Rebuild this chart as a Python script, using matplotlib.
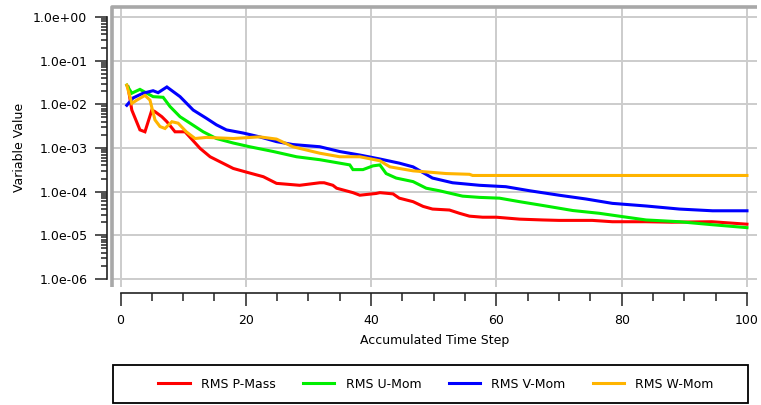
import numpy as np
import matplotlib
matplotlib.use('Agg')
import matplotlib.pyplot as plt
import matplotlib.ticker as mticker
from matplotlib.patches import Rectangle

# values (time step, residual)
p_mass_t = [1.2, 1.8, 3.1, 3.9, 5.0, 5.5, 6.6, 7.4, 8.7, 10.3, 12.7, 14.3, 18.0, 20.1, 22.8, 24.9,
            28.6, 31.8, 32.5, 33.9, 34.5, 37.1, 38.2, 40.8, 41.4, 43.5, 44.5, 46.7, 48.3, 49.8,
            52.5, 54.1, 55.7, 57.8, 60.0, 63.7, 67.4, 70.0, 75.3, 78.5, 83.8, 88.0, 94.4, 100.0]
p_mass = [2.5e-2, 7.4e-3, 2.6e-3, 2.35e-3, 7.4e-3, 6.8e-3, 5.2e-3, 4.0e-3, 2.35e-3, 2.35e-3,
          9.8e-4, 6.3e-4, 3.4e-4, 2.8e-4, 2.2e-4, 1.55e-4, 1.4e-4, 1.6e-4, 1.6e-4, 1.4e-4,
          1.2e-4, 9.5e-5, 8.3e-5, 9.1e-5, 9.5e-5, 8.9e-5, 7.1e-5, 5.9e-5, 4.6e-5, 4.0e-5,
          3.8e-5, 3.2e-5, 2.75e-5, 2.6e-5, 2.6e-5, 2.35e-5, 2.25e-5, 2.2e-5, 2.2e-5, 2.05e-5,
          2.05e-5, 2.0e-5, 2.05e-5, 1.8e-5]

u_mom_t = [1.0, 1.8, 3.1, 4.2, 5.2, 6.8, 7.9, 9.5, 11.1, 13.2, 15.3, 18.0, 20.6, 24.4, 28.1,
           31.8, 36.6, 37.1, 38.7, 40.3, 41.4, 42.4, 44.0, 46.7, 48.8, 50.9, 54.6, 57.3, 60.5,
           63.7, 67.9, 72.2, 76.4, 79.6, 83.9, 89.2, 94.5, 100.0]
u_mom = [2.75e-2, 1.8e-2, 2.2e-2, 1.8e-2, 1.5e-2, 1.45e-2, 8.9e-3, 5.2e-3, 3.7e-3, 2.35e-3,
         1.65e-3, 1.3e-3, 1.07e-3, 8.3e-4, 6.3e-4, 5.4e-4, 4.1e-4, 3.2e-4, 3.2e-4, 3.9e-4,
         4.1e-4, 2.6e-4, 2.05e-4, 1.7e-4, 1.2e-4, 1.05e-4, 7.9e-5, 7.4e-5, 7.1e-5, 5.9e-5,
         4.7e-5, 3.7e-5, 3.2e-5, 2.75e-5, 2.25e-5, 2.05e-5, 1.75e-5, 1.5e-5]

v_mom_t = [1.0, 2.0, 3.6, 5.2, 6.0, 7.4, 9.5, 11.6, 13.7, 15.3, 16.9, 19.6, 22.2, 24.9, 27.5,
           31.8, 35.0, 38.2, 41.4, 44.5, 46.7, 49.8, 53.0, 57.3, 61.5, 65.3, 70.0, 74.3, 78.5,
           83.9, 89.2, 94.5, 100.0]
v_mom = [9.5e-3, 1.4e-2, 1.8e-2, 2.05e-2, 1.85e-2, 2.5e-2, 1.5e-2, 7.4e-3, 4.8e-3, 3.4e-3,
         2.6e-3, 2.2e-3, 1.8e-3, 1.4e-3, 1.2e-3, 1.07e-3, 8.3e-4, 6.9e-4, 5.6e-4, 4.5e-4,
         3.7e-4, 2.05e-4, 1.6e-4, 1.4e-4, 1.3e-4, 1.05e-4, 8.3e-5, 6.8e-5, 5.4e-5, 4.7e-5,
         4.0e-5, 3.65e-5, 3.65e-5]

w_mom_t = [1.0, 1.8, 2.6, 3.9, 4.7, 5.5, 6.3, 7.1, 8.2, 9.2, 10.5, 11.9, 13.7, 18.0, 22.2,
           24.9, 27.5, 31.8, 35.0, 38.2, 41.4, 43.0, 46.7, 52.0, 55.7, 56.2, 70.0, 85.0, 100.0]
w_mom = [2.75e-2, 1.05e-2, 1.25e-2, 1.6e-2, 1.25e-2, 4.4e-3, 3.1e-3, 2.8e-3, 4.0e-3, 3.7e-3,
         2.35e-3, 1.65e-3, 1.75e-3, 1.65e-3, 1.8e-3, 1.6e-3, 1.07e-3, 7.6e-4, 6.3e-4, 6.3e-4,
         5.1e-4, 3.7e-4, 3.0e-4, 2.6e-4, 2.5e-4, 2.35e-4, 2.35e-4, 2.35e-4, 2.35e-4]

series = [
  ('RMS P-Mass', p_mass_t, p_mass, '#ff0000'),
  ('RMS U-Mom', u_mom_t, u_mom, '#00ee00'),
  ('RMS V-Mom', v_mom_t, v_mom, '#0000ff'),
  ('RMS W-Mom', w_mom_t, w_mom, '#ffb400'),
]

plt.rcParams['font.family'] = 'DejaVu Sans'
plt.rcParams['font.size'] = 9

W, H = 761, 405
fig = plt.figure(figsize=(W / 100, H / 100), dpi=100)
ax = fig.add_axes([112 / W, 1 - 287 / H, (757 - 112) / W, (287 - 7) / H])

for label, t, v, c in series:
  ax.plot(t, v, color=c, lw=2.2, label=label, solid_joinstyle='miter')

ax.set_yscale('log')
ax.set_xlim(-1.36, 101.6)
ax.set_ylim(10 ** -6.183, 10 ** 0.229)

ax.set_xticks(np.arange(0, 101, 20))
ax.xaxis.set_minor_locator(mticker.MultipleLocator(5))
ax.yaxis.set_major_locator(mticker.FixedLocator([10.0 ** k for k in range(-6, 1)]))
ax.yaxis.set_minor_locator(mticker.FixedLocator(
  [s * 10.0 ** k for k in range(-6, 0) for s in range(2, 10)]))
ax.yaxis.set_major_formatter(mticker.FuncFormatter(lambda v, p: '%.1e' % v))
ax.yaxis.set_minor_formatter(mticker.NullFormatter())

ax.grid(True, which='major', color='#cccccc', lw=1.4)
ax.set_axisbelow(True)

for s in ['top', 'right']:
  ax.spines[s].set_visible(False)
ax.spines['left'].set_position(('outward', 3.6))
ax.spines['left'].set_bounds(1e-6, 1)
ax.spines['bottom'].set_position(('outward', 4.4))
ax.spines['bottom'].set_bounds(0, 100)
for s in ['left', 'bottom']:
  ax.spines[s].set_color('#222222')
  ax.spines[s].set_linewidth(1.2)

ax.tick_params(axis='y', which='major', length=8.6, width=1.1, pad=5.5, color='#222222')
ax.tick_params(axis='y', which='minor', length=4.3, width=1.1, color='#222222')
ax.tick_params(axis='x', which='major', length=9.4, width=1.1, pad=6, color='#222222')
ax.tick_params(axis='x', which='minor', length=5.4, width=1.1, color='#222222')

# gray frame on left and top of the plot area
ax.plot([0, 0, 1], [0, 1, 1], transform=ax.transAxes, color='#a8a8a8', lw=2.6,
        clip_on=False, solid_capstyle='butt')

ax.set_xlabel('Accumulated Time Step', labelpad=5)
ax.set_ylabel('Variable Value', labelpad=5)

# legend box below the plot
fig.patches.append(Rectangle((113 / W, 1 - 403 / H), (748 - 113) / W, (403 - 365) / H,
                             transform=fig.transFigure, fill=False, ec='black', lw=1.3))
fig.legend(loc='center', bbox_to_anchor=(436 / W, 1 - 384 / H), ncol=4, frameon=False,
           handlelength=2.5, columnspacing=2.2, handletextpad=0.9, fontsize=9)

fig.savefig('out.png', dpi=100)
